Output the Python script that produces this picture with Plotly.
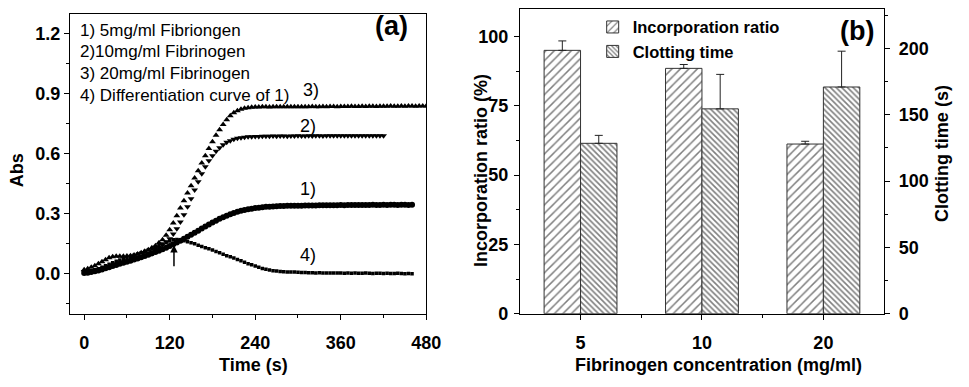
import plotly.graph_objects as go

# ---------------- Panel (a) data ----------------
T1 = list(range(0, 465, 5))
ABS_1 = [0.003, 0.005, 0.008, 0.012, 0.016, 0.021, 0.027, 0.032, 0.038, 0.043,
         0.049, 0.054, 0.060, 0.065, 0.071, 0.076, 0.082, 0.088, 0.095, 0.101,
         0.108, 0.115, 0.122, 0.130, 0.138, 0.147, 0.156, 0.165, 0.175, 0.185,
         0.195, 0.205, 0.215, 0.226, 0.236, 0.246, 0.256, 0.265, 0.274, 0.282,
         0.290, 0.297, 0.303, 0.309, 0.314, 0.318, 0.322, 0.325, 0.328, 0.330,
         0.332, 0.334, 0.335, 0.336, 0.337, 0.338, 0.338, 0.339, 0.339, 0.340,
         0.340,
         0.340, 0.341, 0.341, 0.341, 0.341, 0.342, 0.342, 0.342, 0.342, 0.342,
         0.342, 0.343, 0.342, 0.343, 0.343, 0.343, 0.343, 0.343, 0.343, 0.343,
         0.344, 0.343, 0.343, 0.344, 0.343, 0.344, 0.344, 0.343, 0.344, 0.344,
         0.343, 0.344]

T2 = list(range(0, 425, 5))
ABS_2 = [0.010, 0.011, 0.013, 0.016, 0.020, 0.025, 0.030, 0.036, 0.042, 0.047,
         0.052, 0.057, 0.062, 0.067, 0.072, 0.078, 0.085, 0.092, 0.100, 0.109,
         0.120, 0.132, 0.145, 0.159, 0.175, 0.198, 0.225, 0.258, 0.295, 0.335,
         0.375, 0.418, 0.460, 0.499, 0.535, 0.565, 0.590, 0.612, 0.630, 0.645,
         0.657, 0.665, 0.672, 0.677, 0.680, 0.682, 0.684, 0.685, 0.686, 0.686,
         0.687,
         0.687, 0.687, 0.688, 0.687, 0.688, 0.688, 0.687, 0.688, 0.688, 0.689,
         0.688, 0.688, 0.689, 0.688, 0.689, 0.689, 0.688, 0.689, 0.689, 0.689,
         0.690, 0.689, 0.689, 0.690, 0.689, 0.690, 0.689, 0.690, 0.690, 0.689,
         0.690, 0.690, 0.690, 0.690]

T3 = list(range(0, 485, 5))
ABS_3 = [0.020, 0.025, 0.032, 0.040, 0.050, 0.060, 0.070, 0.079, 0.085, 0.087,
         0.087, 0.087, 0.088, 0.090, 0.093, 0.098, 0.105, 0.112, 0.120, 0.129,
         0.140, 0.154, 0.170, 0.192, 0.220, 0.253, 0.290, 0.328, 0.365, 0.403,
         0.440, 0.478, 0.515, 0.553, 0.590, 0.626, 0.660, 0.692, 0.720, 0.746,
         0.770, 0.789, 0.805, 0.815, 0.822, 0.827, 0.830, 0.832, 0.833,
         0.833, 0.834, 0.834, 0.833, 0.834, 0.835, 0.834, 0.834, 0.835, 0.834,
         0.835, 0.835, 0.834, 0.835, 0.835, 0.836, 0.835, 0.835, 0.836, 0.835,
         0.836, 0.836, 0.835, 0.836, 0.836, 0.836, 0.837, 0.836, 0.836, 0.837,
         0.836, 0.837, 0.837, 0.836, 0.837, 0.837, 0.837, 0.838, 0.837, 0.837,
         0.838, 0.837, 0.838, 0.838, 0.837, 0.838, 0.838, 0.838]

T4 = list(range(0, 465, 5))
ABS_4 = [0.010, 0.012, 0.015, 0.020, 0.025, 0.032, 0.040, 0.047, 0.055, 0.062,
         0.068, 0.074, 0.080, 0.086, 0.092, 0.098, 0.105, 0.111, 0.118, 0.125,
         0.132, 0.140, 0.148, 0.156, 0.163, 0.169, 0.171, 0.168, 0.165, 0.160,
         0.155, 0.149, 0.142, 0.136, 0.130, 0.124, 0.118, 0.111, 0.104, 0.097,
         0.090, 0.084, 0.078, 0.071, 0.064, 0.057, 0.050, 0.044, 0.038, 0.032,
         0.026, 0.022, 0.018, 0.015, 0.013, 0.011, 0.010, 0.009, 0.008, 0.008,
         0.007,
         0.006, 0.006, 0.005, 0.005, 0.004, 0.005, 0.004, 0.003, 0.004, 0.003,
         0.003, 0.004, 0.002, 0.003, 0.002, 0.003, 0.002, 0.002, 0.003, 0.002,
         0.001, 0.002, 0.002, 0.001, 0.002, 0.001, 0.001, 0.002, 0.001, 0.000,
         0.001, 0.000]

LEGEND_LINES = ["1) 5mg/ml Fibriongen", "2)10mg/ml Fibrinogen",
                "3) 20mg/ml Fibrinogen", "4) Differentiation curve of 1)"]
CURVE_LABELS = ["1)", "2)", "3)", "4)"]
CURVE_LABEL_POS = [(314, 0.424), (314, 0.737), (318, 0.917), (314, 0.093)]
ARROW_T = 126
ARROW_FROM, ARROW_TO = 0.03, 0.143

# ---------------- Panel (b) data ----------------
CONC = ["5", "10", "20"]
INCORP = [95.0, 88.5, 61.2]
INCORP_ERR = [3.4, 1.4, 1.0]
CLOT = [128.5, 154.5, 171.0]
CLOT_ERR = [6.0, 26.0, 27.0]

FONT = "Liberation Sans, Arial, sans-serif"
BOLD_TICK = dict(family=FONT, size=18, color="black", weight="bold")
BOLD_TITLE = dict(family=FONT, size=18, color="black", weight="bold")

fig = go.Figure()

curves = [(T1, ABS_1, "circle", 6), (T2, ABS_2, "triangle-down", 6),
          (T3, ABS_3, "triangle-up", 6), (T4, ABS_4, "square", 3.5)]
for t, v, sym, sz in curves:
    fig.add_trace(go.Scatter(x=t, y=v, mode="markers", xaxis="x", yaxis="y",
                             marker=dict(symbol=sym, size=sz, color="black",
                                         line=dict(width=0)),
                             showlegend=False, hoverinfo="skip"))

xi = list(range(len(CONC)))
fig.add_trace(go.Bar(x=xi, y=INCORP, xaxis="x2", yaxis="y3", name="Incorporation ratio",
                     width=0.3, offset=-0.3,
                     marker=dict(color="white", line=dict(color="#333", width=1),
                                 pattern=dict(shape="/", fgcolor="black", bgcolor="white",
                                              size=6, solidity=0.25)),
                     error_y=dict(type="data", symmetric=False, array=INCORP_ERR,
                                  arrayminus=[0] * len(CONC), color="#222",
                                  thickness=1, width=4)))
fig.add_trace(go.Bar(x=xi, y=CLOT, xaxis="x2", yaxis="y4", name="Clotting time",
                     width=0.3, offset=0.0,
                     marker=dict(color="white", line=dict(color="#333", width=1),
                                 pattern=dict(shape="\\", fgcolor="black", bgcolor="white",
                                              size=4, solidity=0.4)),
                     error_y=dict(type="data", symmetric=False, array=CLOT_ERR,
                                  arrayminus=[0] * len(CONC), color="#222",
                                  thickness=1, width=4)))

axis_common = dict(showgrid=False, zeroline=False, showline=True, linecolor="black",
                   linewidth=1, ticks="outside", ticklen=5, tickcolor="black",
                   tickfont=BOLD_TICK)

H = 387.0
W = 969.0
fig.update_layout(
    width=969, height=387, margin=dict(l=0, r=0, t=0, b=0),
    paper_bgcolor="white", plot_bgcolor="white", barmode="overlay",
    font=dict(family=FONT, color="black"),
    xaxis=dict(domain=[71 / W, 433 / W], range=[-20, 480], tickvals=[0, 120, 240, 360, 480],
               mirror=True, anchor="y", ticklabelstandoff=8,
               minor=dict(tickvals=[60, 180, 300, 420], ticks="outside", ticklen=3,
                          tickcolor="black"),
               **axis_common),
    yaxis=dict(domain=[(H - 322) / H, (H - 14) / H], range=[-0.2, 1.3],
               tickvals=[0.0, 0.3, 0.6, 0.9, 1.2], ticktext=["0.0", "0.3", "0.6", "0.9", "1.2"],
               mirror=True, anchor="x",
               minor=dict(tickvals=[-0.15, 0.15, 0.45, 0.75, 1.05], ticks="outside", ticklen=3,
                          tickcolor="black"),
               **axis_common),
    xaxis2=dict(domain=[528 / W, 898 / W], range=[-0.5, 2.5], tickvals=xi, ticktext=CONC,
                mirror=True, anchor="y3", ticklabelstandoff=8,
                minor=dict(tickvals=[0.5, 1.5], ticks="outside", ticklen=3, tickcolor="black"),
                **axis_common),
    yaxis3=dict(domain=[(H - 322) / H, (H - 9) / H], range=[0, 110],
                tickvals=[0, 25, 50, 75, 100], anchor="x2", ticklabelstandoff=2,
                minor=dict(tickvals=[12.5, 37.5, 62.5, 87.5], ticks="outside", ticklen=3,
                           tickcolor="black"),
                **axis_common),
    yaxis4=dict(range=[0, 230], overlaying="y3", side="right", anchor="x2",
                tickvals=[0, 50, 100, 150, 200], ticklabelstandoff=5,
                minor=dict(tickvals=[25, 75, 125, 175, 225], ticks="outside", ticklen=3,
                           tickcolor="black"),
                **axis_common),
    legend=dict(x=602 / W, y=(H - 10) / H, xanchor="left", yanchor="top",
                bgcolor="rgba(0,0,0,0)", borderwidth=0, tracegroupgap=0,
                font=dict(family=FONT, size=16.5, color="black", weight="bold")),
)

ann = []
for i, line in enumerate(LEGEND_LINES):
    ann.append(dict(text=line, xref="paper", yref="paper", x=79 / W, y=(H - (31 + 22.3 * i)) / H,
                    xanchor="left", yanchor="middle", showarrow=False,
                    font=dict(family=FONT, size=17, color="black")))
for lab, (tx, ty) in zip(CURVE_LABELS, CURVE_LABEL_POS):
    ann.append(dict(text=lab, x=tx, y=ty, xref="x", yref="y", showarrow=False,
                    xanchor="center", yanchor="middle",
                    font=dict(family=FONT, size=18, color="black")))
ann.append(dict(text="", x=ARROW_T, y=ARROW_TO, ax=ARROW_T, ay=ARROW_FROM, xref="x", yref="y",
                axref="x", ayref="y", showarrow=True, arrowhead=2, arrowsize=1,
                arrowwidth=1.5, arrowcolor="black"))
ann.append(dict(text="(a)", xref="paper", yref="paper", x=398 / W, y=(H - 27) / H,
                xanchor="center", yanchor="middle", showarrow=False,
                font=dict(family=FONT, size=27, color="black", weight="bold")))
ann.append(dict(text="(b)", xref="paper", yref="paper", x=870 / W, y=(H - 32) / H,
                xanchor="center", yanchor="middle", showarrow=False,
                font=dict(family=FONT, size=27, color="black", weight="bold")))
ann.append(dict(text="Abs", xref="paper", yref="paper", x=18 / W, y=(H - 175) / H,
                xanchor="center", yanchor="middle",
                textangle=-90, showarrow=False, font=BOLD_TITLE))
ann.append(dict(text="Time (s)", xref="paper", yref="paper", x=257 / W, y=(H - 375) / H,
                xanchor="center", yanchor="middle", showarrow=False, font=BOLD_TITLE))
ann.append(dict(text="Incorporation ratio (%)", xref="paper", yref="paper", x=489 / W,
                y=(H - 175) / H, xanchor="center", yanchor="middle",
                textangle=-90, showarrow=False, font=BOLD_TITLE))
ann.append(dict(text="Clotting time (s)", xref="paper", yref="paper", x=957 / W,
                y=(H - 158) / H, xanchor="center", yanchor="middle",
                textangle=-90, showarrow=False, font=BOLD_TITLE))
ann.append(dict(text="Fibrinogen concentration (mg/ml)", xref="paper", yref="paper",
                x=730 / W, y=(H - 375) / H, xanchor="center", yanchor="middle",
                showarrow=False, font=BOLD_TITLE))
fig.update_layout(annotations=ann)

# the page's default 8px body margin would offset the figure; remove it
fig.write_html("out.html",
               post_script="document.body.style.margin='0';"
                           "document.body.style.overflow='hidden';")
